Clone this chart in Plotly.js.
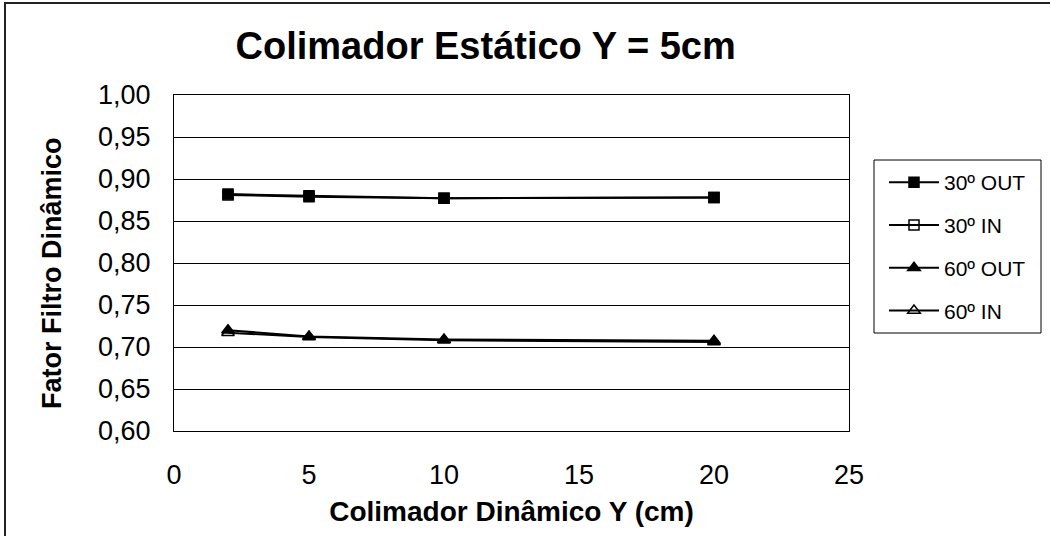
<!DOCTYPE html>
<html>
<head>
<meta charset="utf-8">
<script src="https://cdn.plot.ly/plotly-3.0.1.min.js"></script>
<style>
html,body{margin:0;padding:0;overflow:hidden;background:#fff;}
#chart{position:absolute;left:0;top:0;width:1050px;height:536px;}
#frame{position:absolute;left:4px;top:2px;width:1100px;height:600px;border:2px solid #222;pointer-events:none;}
</style>
</head>
<body>
<div id="chart"></div>
<div id="frame"></div>
<script>
const xValues = [2, 5, 10, 20];
const out30 = [0.882, 0.880, 0.877, 0.878];
const in30 = [0.881, 0.879, 0.877, 0.878];
const out60 = [0.720, 0.7125, 0.709, 0.7075];
const in60 = [0.717, 0.712, 0.708, 0.706];
const seriesNames = ['30º OUT', '30º IN', '60º OUT', '60º IN'];
const yTitle = 'Fator Filtro Dinâmico';
const xTitle = 'Colimador Dinâmico Y (cm)';
const chartTitle = 'Colimador Estático Y = 5cm';

const font = 'Liberation Sans, Arial, sans-serif';
function tr(name, y, symbol, rank) {
  return {
    x: xValues, y: y, name: name, type: 'scatter', mode: 'lines+markers',
    line: {color: '#000', width: 2},
    marker: {symbol: symbol, size: symbol.indexOf('triangle') === 0 ? 11 : 10, color: '#000',
             line: {color: '#000', width: 1.5}},
    legendrank: rank, legendgroup: name
  };
}
const data = [
  tr(seriesNames[1], in30, 'square-open', 2),
  tr(seriesNames[3], in60, 'triangle-up-open', 4),
  tr(seriesNames[0], out30, 'square', 1),
  tr(seriesNames[2], out60, 'triangle-up', 3)
];
const W = 675, H = 336, L = 174, T = 95;
function px(x) { return (x - L) / W; }
function py(y) { return (T + H - y) / H; }
const layout = {
  width: 1050, height: 536,
  paper_bgcolor: '#fff', plot_bgcolor: '#fff',
  separators: ',.',
  margin: {l: L, r: 1050 - L - W, t: T, b: 536 - T - H},
  font: {family: font, color: '#000'},
  title: {text: '<b>' + chartTitle + '</b>', font: {family: font, size: 38, color: '#000'},
          x: 0.4625, xanchor: 'center', y: 0.915, yanchor: 'middle'},
  xaxis: {range: [0, 25], dtick: 5, tick0: 0, showgrid: false, zeroline: false,
          showline: true, mirror: true, linecolor: '#000', linewidth: 1,
          ticks: '', tickfont: {family: font, size: 27}, ticklabelstandoff: 20,
          title: {text: '<b>' + xTitle + '</b>', font: {family: font, size: 28}, standoff: 11}},
  yaxis: {range: [0.6, 1.0], dtick: 0.05, tick0: 0.6, tickformat: '.2f',
          showgrid: true, gridcolor: '#000', gridwidth: 1, zeroline: false,
          showline: true, mirror: true, linecolor: '#000', linewidth: 1,
          ticks: '', tickfont: {family: font, size: 27}, ticklabelstandoff: 17},
  annotations: [{text: '<b>' + yTitle + '</b>', textangle: -90, showarrow: false,
                 xref: 'paper', yref: 'paper', x: px(52), y: py(273), xanchor: 'center', yanchor: 'middle',
                 font: {family: font, size: 27, color: '#000'}}],
  shapes: [{type: 'rect', xref: 'paper', yref: 'paper', x0: px(874), x1: px(1041), y0: py(333), y1: py(160),
            line: {color: '#000', width: 1}, fillcolor: 'rgba(0,0,0,0)', layer: 'above'}],
  showlegend: true,
  legend: {x: px(884), xanchor: 'left', y: py(162), yanchor: 'top',
           borderwidth: 0, bgcolor: 'rgba(0,0,0,0)',
           font: {family: font, size: 21}, tracegroupgap: 12.5, itemwidth: 50}
};
Plotly.newPlot('chart', data, layout, {displayModeBar: false, staticPlot: true});
</script>
</body>
</html>
